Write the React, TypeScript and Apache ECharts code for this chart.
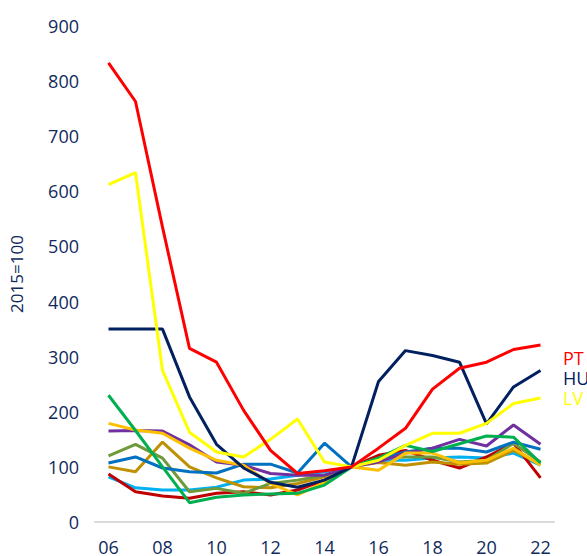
import React, { useEffect, useRef } from "react";
import * as echarts from "echarts";

const years = ["06", "07", "08", "09", "10", "11", "12", "13", "14", "15", "16", "17", "18", "19", "20", "21", "22"];

const ptValues = [833, 763, 535, 315, 290, 203, 130, 88, 93, 100, 134, 170, 241, 279, 290, 313, 321];
const huValues = [350, 350, 350, 227, 141, 98, 72, 63, 76, 100, 255, 311, 302, 290, 178, 245, 275];
const lvValues = [612, 634, 275, 163, 127, 118, 150, 187, 109, 100, 112, 139, 161, 161, 179, 215, 225];
const greenValues = [230, 166, 100, 35, 45, 49, 51, 52, 67, 100, 116, 139, 128, 142, 156, 154, 107];
const purpleValues = [165, 166, 165, 140, 109, 103, 88, 85, 85, 100, 109, 125, 134, 150, 138, 176, 141];
const orangeValues = [179, 167, 161, 134, 112, 103, 70, 49, 72, 100, 94, 125, 125, 107, 112, 134, 103];
const goldValues = [100, 91, 145, 100, 80, 64, 62, 70, 82, 100, 108, 103, 109, 105, 107, 130, 105];
const oliveValues = [120, 141, 116, 55, 61, 52, 70, 76, 85, 100, 116, 118, 118, 109, 112, 143, 109];
const blueValues = [107, 118, 98, 91, 89, 105, 105, 89, 143, 100, 114, 127, 134, 134, 127, 145, 132];
const darkRedValues = [87, 55, 47, 43, 52, 55, 49, 58, 76, 100, 121, 130, 112, 98, 118, 143, 80];
const lightBlueValues = [82, 62, 58, 58, 63, 76, 78, 85, 91, 100, 112, 112, 116, 118, 116, 125, 103];

const seriesDefs = [
  { name: "A", data: lightBlueValues, color: "#00b0f0" },
  { name: "B", data: darkRedValues, color: "#c00000" },
  { name: "C", data: goldValues, color: "#bf9000" },
  { name: "D", data: oliveValues, color: "#6e9a3a" },
  { name: "E", data: blueValues, color: "#0070c0" },
  { name: "F", data: purpleValues, color: "#7030a0" },
  { name: "G", data: orangeValues, color: "#ffc000" },
  { name: "H", data: greenValues, color: "#00b050" },
  { name: "HU", data: huValues, color: "#002060" },
  { name: "LV", data: lvValues, color: "#ffff00" },
  { name: "PT", data: ptValues, color: "#ff0000" },
];

const endLabels = [
  { text: "PT", color: "#ff0000", y: 358 },
  { text: "HU", color: "#002060", y: 378 },
  { text: "LV", color: "#ffff00", y: 398 },
];

const textColor = "#102a5c";
const fontFamily = "'Open Sans', sans-serif";

export default function App() {
  const ref = useRef<HTMLDivElement>(null);
  useEffect(() => {
    if (!ref.current) return;
    const chart = echarts.init(ref.current, undefined, { renderer: "svg" });
    chart.setOption({
      animation: false,
      backgroundColor: "#ffffff",
      grid: { left: 88, right: 33, top: 26, bottom: 33 },
      xAxis: {
        type: "category",
        data: years,
        boundaryGap: true,
        axisLine: { show: true, lineStyle: { color: "#d9d9d9", width: 2 } },
        axisTick: { show: false },
        axisLabel: { interval: 1, color: textColor, fontSize: 18, lineHeight: 18, fontFamily, margin: 16 },
      },
      yAxis: {
        type: "value",
        min: 0,
        max: 900,
        interval: 100,
        name: "2015=100",
        nameLocation: "middle",
        nameGap: 70,
        nameRotate: 90,
        nameTextStyle: { color: textColor, fontSize: 17, fontFamily },
        axisLine: { show: false },
        axisTick: { show: false },
        splitLine: { show: false },
        axisLabel: { color: textColor, fontSize: 18, fontFamily, margin: 16 },
      },
      series: seriesDefs.map((s) => ({
        name: s.name,
        type: "line",
        data: s.data,
        symbol: "none",
        lineStyle: { color: s.color, width: 3 },
        itemStyle: { color: s.color },
      })),
      graphic: endLabels.map((l) => ({
        type: "text",
        left: 563,
        top: l.y - 9,
        style: { text: l.text, fill: l.color, fontSize: 18, lineHeight: 18, fontFamily },
      })),
    });
    return () => chart.dispose();
  }, []);
  return (
    <div
      ref={ref}
      style={{ position: "fixed", left: 0, top: 0, width: 587, height: 556, background: "#fff" }}
    />
  );
}
